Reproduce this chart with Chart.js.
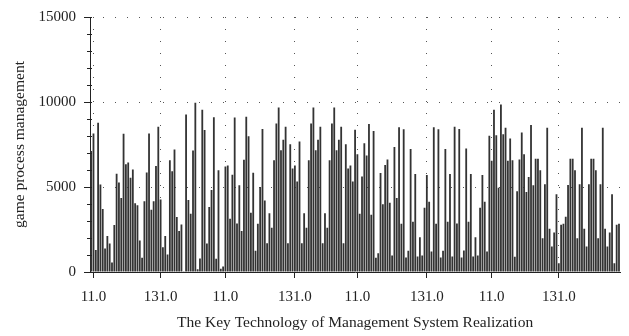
<!DOCTYPE html>
<html>
<head>
<meta charset="utf-8">
<script src="https://cdn.jsdelivr.net/npm/chart.js@4.4.1/dist/chart.umd.min.js"></script>
<style>
  html, body { margin: 0; padding: 0; background: #fff; }
  #wrap { width: 629px; height: 336px; }
</style>
</head>
<body>
<div id="wrap"><canvas id="chart"></canvas></div>
<script>
// bar heights, left to right
const processValues = [
  7120, 8150, 1300, 8780, 5140, 3700, 1380, 2120, 1670, 560, 2760, 5780, 5270, 4360, 8130, 6340, 6440, 5540, 6030, 4050,
  3930, 1850, 840, 4160, 5860, 8150, 3660, 4160, 6230, 8540, 4260, 1460, 2120, 1030, 6580, 5920, 7200, 3230, 2410,
  2800, 50, 9260, 4240, 3420, 7140, 9960, 160, 800, 9550, 8350, 1670, 3830, 4830, 9110, 780, 5990, 190, 330, 6210,
  6270, 3130, 5720, 9090, 2860, 5100, 2410, 6600, 9130, 7980, 3480, 5840, 1250, 2840, 5000, 8410, 4200, 1690,
  3460, 2610, 6580, 8740, 9670, 7160, 7780, 8540, 1690, 7510, 6090, 6270, 5330, 7670, 1690, 3460, 2610, 6580, 8740,
  9670, 7160, 7780, 8540, 1690, 3460, 2610, 6580, 8740, 9670, 7160, 7780, 8540, 1690, 7510, 6090, 6270, 5330,
  8370, 6930, 3420, 5620, 7570, 6850, 8700, 3370, 8290, 840, 1110, 5820, 3990, 6290, 6620, 4070, 970, 7360, 4360, 8520,
  2840, 8390, 860, 1250, 7240, 2960, 5760, 910, 2040, 970, 3780, 5700, 4130, 1210, 8520, 2840, 8390, 860, 1250, 7240,
  2960, 5760, 910, 8540, 2860, 8410, 860, 1260, 7260, 2960, 5760, 910, 2040, 970, 3780, 5700, 4130, 1210, 8020, 6540,
  9540, 8040, 4960, 9850, 8100, 8490, 6540, 7860, 6580, 900, 4750, 6620, 8210, 6930, 4710, 5590, 8640, 5100, 6660,
  6660, 5990, 1980, 5160, 8490, 2550, 1500, 2320, 4570, 510, 2780, 2840, 3250, 5120, 6660, 6660, 5990, 1980, 5160, 8490,
  2550, 1500, 5160, 6660, 6660, 5990, 1980, 5160, 8490, 2550, 1500, 2320, 4570, 510, 2780, 2840
];

const tickLabels = ['11.0', '131.0', '11.0', '131.0', '11.0', '131.0', '11.0', '131.0'];
const tickAt = [1, 30, 58, 88, 115, 145, 173, 202];
const yTicks = [0, 5000, 10000, 15000];
const minorStep = 1000;

const categories = processValues.map((_, i) => {
  const k = tickAt.indexOf(i);
  return k >= 0 ? tickLabels[k] : '';
});

const serif = "'Liberation Serif', 'Times New Roman', serif";
const ink = '#222';
const dots = '#555';

// small ticks every 1000 across the y axis line
const minorTicks = {
  id: 'minorTicks',
  afterDraw(chart) {
    const y = chart.scales.y;
    const x0 = chart.chartArea.left;
    const ctx = chart.ctx;
    ctx.save();
    ctx.strokeStyle = ink;
    ctx.lineWidth = 1;
    for (let v = y.min; v <= y.max; v += minorStep) {
      const py = Math.round(y.getPixelForValue(v)) + 0.5;
      ctx.beginPath();
      ctx.moveTo(x0 - 3, py);
      ctx.lineTo(x0 + 2, py);
      ctx.stroke();
    }
    ctx.restore();
  }
};

new Chart(document.getElementById('chart'), {
  type: 'bar',
  data: {
    labels: categories,
    datasets: [{
      data: processValues,
      backgroundColor: '#333',
      borderWidth: 0,
      barPercentage: 0.78,
      categoryPercentage: 1
    }]
  },
  plugins: [minorTicks],
  options: {
    responsive: true,
    maintainAspectRatio: false,
    animation: false,
    layout: { padding: { left: 0, right: 7, top: 17, bottom: 0 } },
    plugins: { legend: { display: false }, tooltip: { enabled: false } },
    scales: {
      x: {
        afterFit: (s) => { s.height = 64; },
        grid: {
          offset: false,
          color: (c) => (categories[c.index] ? dots : 'transparent'),
          tickColor: (c) => (categories[c.index] ? ink : 'transparent'),
          tickLength: 6,
          lineWidth: 1
        },
        border: { color: ink, width: 1, dash: [1, 11] },
        ticks: {
          autoSkip: false,
          maxRotation: 0,
          padding: 10,
          color: ink,
          font: { family: serif, size: 15 },
          callback: (v, i) => categories[i]
        },
        title: {
          display: true,
          text: 'The Key Technology of Management System Realization',
          color: ink,
          font: { family: serif, size: 15.5 },
          padding: { top: 0, bottom: 4 }
        }
      },
      y: {
        min: 0,
        max: 15000,
        afterFit: (s) => { s.width = 90; },
        afterBuildTicks: (s) => { s.ticks = yTicks.map((v) => ({ value: v })); },
        grid: {
          color: (c) => (c.tick && c.tick.value > 0 ? dots : 'transparent'),
          tickColor: ink,
          tickLength: 6,
          lineWidth: 1
        },
        border: { color: ink, width: 1, dash: [1, 11] },
        ticks: {
          padding: 8,
          color: ink,
          font: { family: serif, size: 15 },
          callback: (v) => String(v)
        },
        title: {
          display: true,
          text: 'game process management',
          color: ink,
          font: { family: serif, size: 15.5 },
          padding: { top: 11, bottom: 0 }
        }
      }
    }
  }
});
</script>
</body>
</html>
